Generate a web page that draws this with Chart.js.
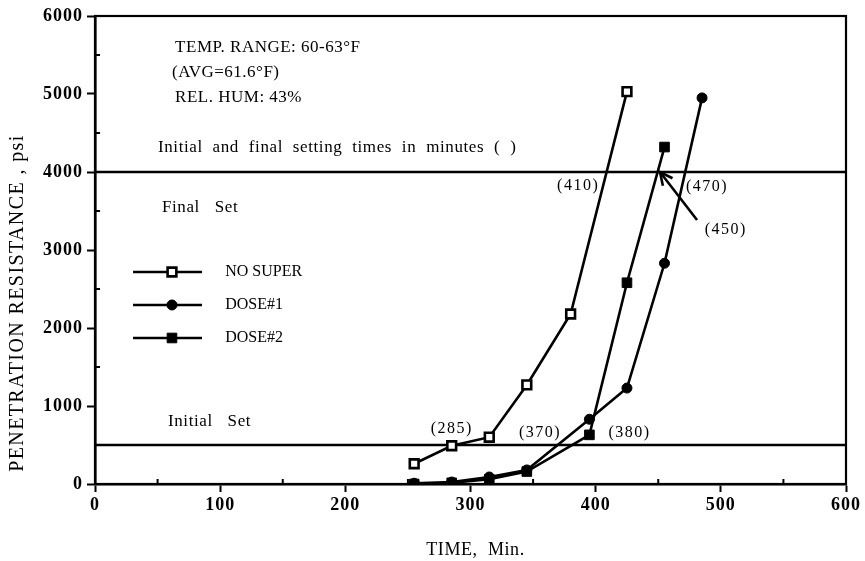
<!DOCTYPE html>
<html><head><meta charset="utf-8">
<script src="https://cdn.jsdelivr.net/npm/chart.js@4"></script>
<style>html,body{margin:0;padding:0;background:#fff}</style>
</head><body>
<canvas id="c" width="865" height="561"></canvas>
<script>
// ---- data ----
const seriesNames = ['NO SUPER', 'DOSE#1', 'DOSE#2'];
const noSuperTime = [255, 285, 315, 345, 380, 425];
const noSuperPsi  = [260, 490, 600, 1270, 2180, 5030];
const dose1Time   = [255, 285, 315, 345, 395, 425, 455, 485];
const dose1Psi    = [10, 25, 90, 180, 830, 1230, 2830, 4950];
const dose2Time   = [255, 285, 315, 345, 395, 425, 455];
const dose2Psi    = [0, 15, 60, 160, 630, 2580, 4320];
const finalSetPsi = 4000;
const initialSetPsi = 500;
const xTickValues = [0, 100, 200, 300, 400, 500, 600];
const yTickValues = [0, 1000, 2000, 3000, 4000, 5000, 6000];
const xMinorTicks = [50, 150, 250, 350, 450, 550];
const yMinorTicks = [500, 1500, 2500, 3500, 4500, 5500];
const settingTimeLabels = ['(285)', '(410)', '(470)', '(450)', '(370)', '(380)'];
const infoLines = ['TEMP. RANGE: 60-63°F', '(AVG=61.6°F)', 'REL. HUM: 43%'];
const headerText = 'Initial and final setting times in minutes ( )';
const finalSetText = 'Final Set';
const initialSetText = 'Initial Set';
const xTitle = 'TIME,  Min.';
const yTitle = 'PENETRATION RESISTANCE , psi';

const pts = (xs, ys) => xs.map((v, i) => ({x: v, y: ys[i]}));
const serif = 'Liberation Serif';

const styles = [
  {pointStyle: 'rect', radius: 6.2, bg: '#fff', bw: 2.6},
  {pointStyle: 'circle', radius: 5, bg: '#000', bw: 1},
  {pointStyle: 'rect', radius: 6.8, bg: '#000', bw: 1}
];
const seriesData = [pts(noSuperTime, noSuperPsi), pts(dose1Time, dose1Psi), pts(dose2Time, dose2Psi)];

const datasets = seriesData.map((d, i) => ({
  label: seriesNames[i], data: d, showLine: true,
  borderColor: '#000', borderWidth: 2.6, backgroundColor: styles[i].bg,
  pointStyle: styles[i].pointStyle, pointRadius: styles[i].radius,
  pointBorderColor: '#000', pointBackgroundColor: styles[i].bg, pointBorderWidth: styles[i].bw,
  tension: 0
}));
[finalSetPsi, initialSetPsi].forEach(v => datasets.push({
  label: '', data: [{x: 0, y: v}, {x: 600, y: v}], showLine: true,
  borderColor: '#000', borderWidth: 2.4, pointRadius: 0
}));

// annotation placements (data coordinates)
const F17 = '17px ' + serif;
const notes = [
  {t: infoLines[0], x: 64, y: 5590, a: 'left', f: F17, ls: '0.5px'},
  {t: infoLines[1], x: 61.5, y: 5270, a: 'left', f: F17, ls: '0.5px'},
  {t: infoLines[2], x: 64, y: 4950, a: 'left', f: F17, ls: '0.5px'},
  {t: headerText, x: 50.3, y: 4310, a: 'left', f: F17, ls: '0.6px', ws: '5px'},
  {t: finalSetText, x: 53.5, y: 3540, a: 'left', f: F17, ls: '0.6px', ws: '10px'},
  {t: initialSetText, x: 58.3, y: 795, a: 'left', f: F17, ls: '0.6px', ws: '10px'},
  {t: settingTimeLabels[0], x: 285, y: 705, a: 'center', f: '16px ' + serif, ls: '1.5px'},
  {t: settingTimeLabels[1], x: 386, y: 3820, a: 'center', f: '16px ' + serif, ls: '1.5px'},
  {t: settingTimeLabels[2], x: 489, y: 3808, a: 'center', f: '16px ' + serif, ls: '1.5px'},
  {t: settingTimeLabels[3], x: 504, y: 3256, a: 'center', f: '16px ' + serif, ls: '1.5px'},
  {t: settingTimeLabels[4], x: 355.5, y: 654, a: 'center', f: '16px ' + serif, ls: '1.5px'},
  {t: settingTimeLabels[5], x: 427, y: 654, a: 'center', f: '16px ' + serif, ls: '1.5px'}
];
const legendRows = [2718, 2295, 1872];

const spacing = {
  id: 'spacing',
  beforeDraw(chart) { chart.ctx.letterSpacing = '1px'; },
  afterDraw(chart) { chart.ctx.letterSpacing = '0px'; }
};

const annot = {
  id: 'annot',
  afterDatasetsDraw(chart) {
    const {ctx, chartArea: a, scales: {x, y}} = chart;
    ctx.save();
    ctx.fillStyle = '#000'; ctx.strokeStyle = '#000';
    // frame
    ctx.lineWidth = 2.2;
    ctx.strokeRect(a.left, a.top, a.right - a.left, a.bottom - a.top);
    // minor ticks (inward)
    ctx.lineWidth = 2;
    xMinorTicks.forEach(v => { const px = x.getPixelForValue(v); ctx.beginPath(); ctx.moveTo(px, a.bottom); ctx.lineTo(px, a.bottom - 5); ctx.stroke(); });
    yMinorTicks.forEach(v => { const py = y.getPixelForValue(v); ctx.beginPath(); ctx.moveTo(a.left, py); ctx.lineTo(a.left + 5, py); ctx.stroke(); });
    // texts
    ctx.textBaseline = 'middle';
    notes.forEach(n => {
      ctx.font = n.f; ctx.textAlign = n.a;
      ctx.letterSpacing = n.ls || '0px';
      ctx.wordSpacing = n.ws || '0px';
      ctx.fillText(n.t, x.getPixelForValue(n.x), y.getPixelForValue(n.y));
    });
    ctx.wordSpacing = '0px';
    // axis titles
    ctx.letterSpacing = '0.6px';
    ctx.font = '18px ' + serif; ctx.textAlign = 'center';
    ctx.fillText(xTitle, x.getPixelForValue(304), 550);
    ctx.save();
    ctx.translate(18, y.getPixelForValue(2320));
    ctx.rotate(-Math.PI / 2);
    ctx.letterSpacing = '1.4px';
    ctx.font = '20px ' + serif;
    ctx.fillText(yTitle, 0, 0);
    ctx.restore();
    ctx.letterSpacing = '0px';
    // legend
    const lx0 = x.getPixelForValue(30.4), lx1 = x.getPixelForValue(85.5), lm = x.getPixelForValue(61.5), lt = x.getPixelForValue(104);
    legendRows.forEach((r, i) => {
      const py = y.getPixelForValue(r);
      ctx.lineWidth = 2.6; ctx.strokeStyle = '#000';
      ctx.beginPath(); ctx.moveTo(lx0, py); ctx.lineTo(lx1, py); ctx.stroke();
      ctx.fillStyle = styles[i].bg; ctx.lineWidth = styles[i].bw;
      Chart.helpers.drawPoint(ctx, {pointStyle: styles[i].pointStyle, radius: styles[i].radius, rotation: 0, borderWidth: styles[i].bw}, lm, py);
      ctx.fillStyle = '#000';
      ctx.font = '16px ' + serif; ctx.textAlign = 'left';
      ctx.fillText(seriesNames[i], lt, py);
    });
    // arrow pointing at DOSE#2 final set crossing
    const ax0 = x.getPixelForValue(481), ay0 = y.getPixelForValue(3385);
    const ax1 = x.getPixelForValue(451.4), ay1 = y.getPixelForValue(4000);
    ctx.lineWidth = 2.6; ctx.strokeStyle = '#000';
    ctx.beginPath(); ctx.moveTo(ax0, ay0); ctx.lineTo(ax1, ay1); ctx.stroke();
    const ang = Math.atan2(ay1 - ay0, ax1 - ax0), hl = 14, spread = 0.45;
    ctx.beginPath();
    ctx.moveTo(ax1 - hl * Math.cos(ang - spread), ay1 - hl * Math.sin(ang - spread));
    ctx.lineTo(ax1, ay1);
    ctx.lineTo(ax1 - hl * Math.cos(ang + spread), ay1 - hl * Math.sin(ang + spread));
    ctx.stroke();
    ctx.restore();
  }
};

new Chart(document.getElementById('c'), {
  type: 'scatter',
  data: {datasets},
  options: {
    responsive: false, animation: false, devicePixelRatio: 1,
    layout: {padding: {top: 16, right: 19, left: 0, bottom: 0}},
    plugins: {legend: {display: false}, tooltip: {enabled: false}},
    scales: {
      x: {
        type: 'linear', min: 0, max: 600,
        afterBuildTicks: s => { s.ticks = xTickValues.map(v => ({value: v})); },
        ticks: {color: '#000', font: {family: serif, size: 18, weight: 'bold'}, padding: 3, maxRotation: 0, autoSkip: false, callback: v => String(v)},
        grid: {drawOnChartArea: false, drawTicks: true, tickLength: 8, color: '#000', tickColor: '#000', tickWidth: 2},
        border: {display: true, color: '#000', width: 2.6},
        title: {display: false},
        afterFit: s => { s.height = 77; }
      },
      y: {
        type: 'linear', min: 0, max: 6000,
        afterBuildTicks: s => { s.ticks = yTickValues.map(v => ({value: v})); },
        ticks: {color: '#000', font: {family: serif, size: 18, weight: 'bold'}, padding: 4, autoSkip: false, callback: v => String(v)},
        grid: {drawOnChartArea: false, drawTicks: true, tickLength: 8, color: '#000', tickColor: '#000', tickWidth: 2},
        border: {display: true, color: '#000', width: 2.6},
        title: {display: false},
        afterFit: s => { s.width = 95; }
      }
    }
  },
  plugins: [spacing, annot]
});
</script>
</body></html>
